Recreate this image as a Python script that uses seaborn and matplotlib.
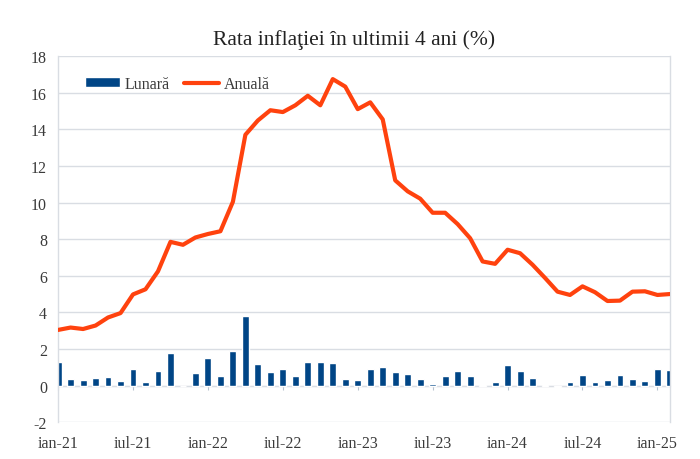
import pandas as pd
import matplotlib.pyplot as plt
import seaborn as sns
import numpy as np

# --- Dados (ian-21 ... feb-25) ---
luni = ['ian', 'feb', 'mar', 'apr', 'mai', 'iun', 'iul', 'aug', 'sep', 'oct', 'noi', 'dec']
ani = ['21', '22', '23', '24', '25']
etichete = [f'{l}-{a}' for a in ani for l in luni][:50]

# inflatia lunara (%)
lunara = [1.30, 0.36, 0.32, 0.41, 0.47, 0.24, 0.92, 0.20, 0.82, 1.78, 0.00, 0.67,
          1.48, 0.54, 1.89, 3.78, 1.16, 0.75, 0.88, 0.52, 1.31, 1.31, 1.25, 0.34,
          0.30, 0.93, 0.99, 0.75, 0.62, 0.36, 0.07, 0.50, 0.77, 0.54, 0.02, 0.22,
          1.10, 0.80, 0.39, 0.03, -0.10, 0.22, 0.56, 0.20, 0.31, 0.57, 0.37, 0.26,
          0.89, 0.85]

# inflatia anuala (%)
anuala = [3.04, 3.17, 3.09, 3.28, 3.72, 3.96, 4.98, 5.26, 6.24, 7.85, 7.69, 8.09,
          8.28, 8.43, 10.04, 13.70, 14.48, 15.04, 14.94, 15.31, 15.83, 15.31, 16.74, 16.33,
          15.10, 15.47, 14.54, 11.21, 10.61, 10.21, 9.44, 9.44, 8.82, 8.05, 6.78, 6.65,
          7.42, 7.23, 6.60, 5.88, 5.13, 4.95, 5.42, 5.10, 4.62, 4.64, 5.13, 5.15,
          4.95, 5.00]

df = pd.DataFrame({'idx': np.arange(len(lunara)), 'luna': etichete,
                   'Lunară': lunara, 'Anuală': anuala})

# --- Stil ---
sns.set_style("white")
plt.rcParams['font.family'] = ['Liberation Serif', 'DejaVu Serif']
plt.rcParams['axes.unicode_minus'] = False

culoare_grila = '#d9dde3'
culoare_text = '#3a3a3a'

fig = plt.figure(figsize=(7, 4.6), dpi=100)
ax = fig.add_axes([0.083, 0.080, 0.874, 0.796])

sns.barplot(data=df, x='idx', y='Lunară', color='#004586', saturation=1,
            width=0.55, ax=ax, label='Lunară', zorder=2)
sns.lineplot(data=df, x='idx', y='Anuală', color='#ff420e', linewidth=3,
             ax=ax, label='Anuală', zorder=3, solid_joinstyle='round')

ymin, ymax = -2, 18
ax.set_ylim(ymin, ymax)
ax.set_xlim(0, len(lunara) - 1)
ax.set_yticks(range(-2, 19, 2))

poz = list(range(0, len(lunara), 6))
ax.set_xticks(poz, [etichete[i] for i in poz])
ax.set_xlabel('')
ax.set_ylabel('')

ax.grid(axis='y', color=culoare_grila, linewidth=1)
ax.set_axisbelow(True)
for s in ['top', 'bottom']:
    ax.spines[s].set_visible(False)
for s in ['left', 'right']:
    ax.spines[s].set_color(culoare_grila)
    ax.spines[s].set_linewidth(1)

ax.tick_params(axis='both', length=0, labelsize=11.5, labelcolor=culoare_text)
ax.tick_params(axis='y', pad=8)
ax.tick_params(axis='x', pad=9)

# axa orizontala la zero, cu gradatii
sec = ax.secondary_xaxis((0 - ymin) / (ymax - ymin))
sec.set_xticks(poz, [''] * len(poz))
sec.tick_params(length=3, color='#b8c4d0', direction='out')
sec.spines['bottom'].set_color('#c8d0da')

# legenda: Lunară, apoi Anuală
h, l = ax.get_legend_handles_labels()
ordine = [l.index('Lunară'), l.index('Anuală')]
leg = ax.legend([h[i] for i in ordine], [l[i] for i in ordine],
                loc='upper left', bbox_to_anchor=(0.02, 0.985), ncol=2,
                frameon=False, fontsize=11.5, handlelength=2.2, handleheight=0.55,
                columnspacing=0.9, handletextpad=0.3)
for t in leg.get_texts():
    t.set_color(culoare_text)

fig.text(0.506, 0.913, 'Rata inflaţiei în ultimii 4 ani (%)', ha='center', va='center',
         fontsize=15.5, color='#222222')

fig.savefig('out.png', dpi=100, facecolor='white')
